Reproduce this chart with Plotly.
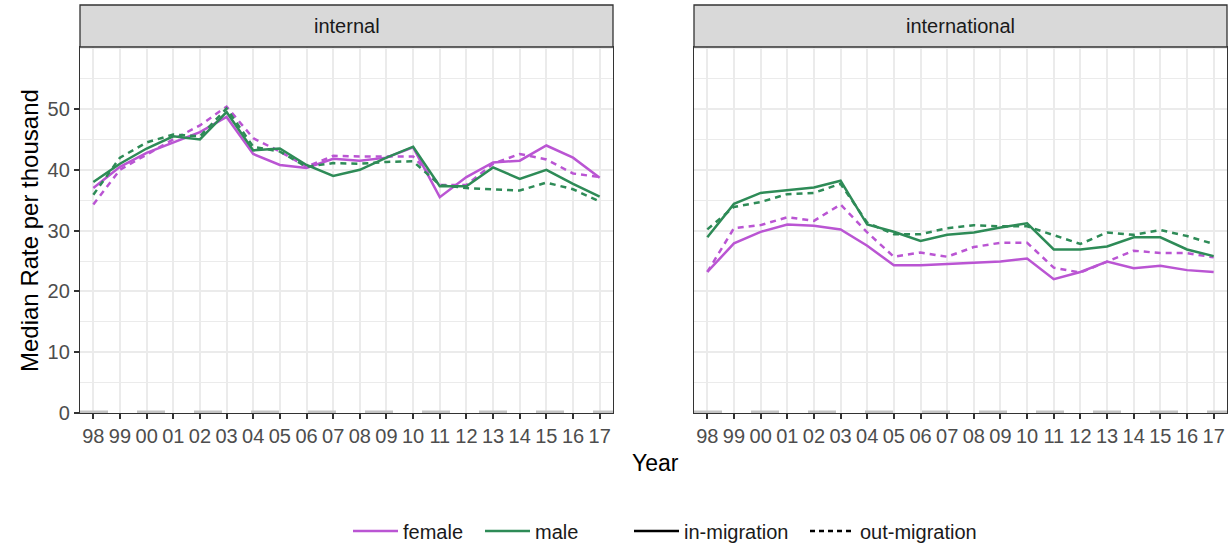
import plotly.graph_objects as go

# Year labels (two-digit) along the x axis
years = ["98", "99", "00", "01", "02", "03", "04", "05", "06", "07",
         "08", "09", "10", "11", "12", "13", "14", "15", "16", "17"]
y_ticks = [0, 10, 20, 30, 40, 50]

# Internal migration: median rate per thousand
internal_female_in = [37.0, 40.5, 42.8, 44.5, 46.2, 48.7, 42.6, 40.8, 40.3, 41.8,
                      41.5, 42.0, 43.7, 35.5, 38.8, 41.2, 41.5, 44.0, 42.0, 38.7]
internal_female_out = [34.3, 40.0, 42.5, 45.0, 47.3, 50.4, 45.2, 43.0, 40.5, 42.3,
                       42.2, 42.2, 42.2, 37.5, 37.5, 41.0, 42.6, 41.7, 39.4, 38.8]
internal_male_in = [38.0, 41.0, 43.5, 45.5, 45.0, 49.5, 43.2, 43.5, 40.8, 39.0,
                    40.0, 42.0, 43.8, 37.3, 37.3, 40.4, 38.5, 40.0, 37.7, 35.6]
internal_male_out = [35.9, 42.0, 44.5, 45.8, 45.5, 50.1, 43.8, 43.0, 40.5, 41.1,
                     41.0, 41.3, 41.4, 37.5, 37.0, 36.8, 36.6, 37.9, 36.8, 34.8]

# International migration: median rate per thousand
intl_female_in = [23.2, 27.9, 29.8, 31.0, 30.8, 30.2, 27.5, 24.3, 24.3, 24.5,
                  24.6, 24.9, 25.4, 22.0, 23.2, 24.9, 23.8, 24.2, 23.5, 23.2]
intl_female_out = [23.2, 30.4, 30.9, 32.2, 31.6, 34.3, 29.7, 25.7, 26.4, 25.7,
                   27.3, 28.0, 28.0, 23.9, 23.1, 24.9, 26.7, 26.3, 26.3, 25.6]
intl_male_in = [28.9, 34.4, 36.2, 36.7, 37.1, 38.2, 31.0, 29.8, 28.3, 29.3,
                29.7, 30.5, 31.2, 26.9, 26.9, 27.4, 28.9, 28.9, 26.9, 25.8]
intl_male_out = [30.2, 33.9, 34.7, 36.0, 36.2, 37.7, 31.3, 29.4, 29.4, 30.4,
                 30.9, 30.7, 30.7, 29.3, 27.8, 29.7, 29.3, 30.1, 29.1, 27.8]

baseline = [0, 0]

PURPLE = "#BA55D3"
GREEN = "#2E8B57"
DASH = "6px,5px"
FONT = "Liberation Sans, Arial, sans-serif"
W, H = 1231, 544

x_idx = list(range(len(years)))

fig = go.Figure()

panels = [
    ("x", "y", [(internal_female_in, PURPLE, "solid"), (internal_female_out, PURPLE, DASH),
                (internal_male_in, GREEN, "solid"), (internal_male_out, GREEN, DASH)]),
    ("x2", "y2", [(intl_female_in, PURPLE, "solid"), (intl_female_out, PURPLE, DASH),
                  (intl_male_in, GREEN, "solid"), (intl_male_out, GREEN, DASH)]),
]

for xa, ya, series in panels:
    # faint dashed reference line at zero
    fig.add_trace(go.Scatter(x=[-0.5, len(years) - 0.5], y=baseline, mode="lines",
                             line=dict(color="#c4c4c4", width=5, dash="28px,29px"),
                             xaxis=xa, yaxis=ya, showlegend=False, hoverinfo="skip"))
    for vals, col, dash in series:
        fig.add_trace(go.Scatter(x=x_idx, y=vals, mode="lines",
                                 line=dict(color=col, width=2.5, dash=dash),
                                 xaxis=xa, yaxis=ya, showlegend=False))

# legend entries, each in its own legend box so they can be placed freely
legend_items = [
    ("female", PURPLE, "solid", "legend", 348),
    ("male", GREEN, "solid", "legend2", 480),
    ("in-migration", "black", "solid", "legend3", 629),
    ("out-migration", "black", "5px,4px", "legend4", 805),
]
legend_layout = {}
for name, col, dash, lg, xpos in legend_items:
    fig.add_trace(go.Scatter(x=[None], y=[None], mode="lines", name=name,
                             line=dict(color=col, width=2.5, dash=dash), legend=lg))
    legend_layout[lg] = dict(orientation="h", x=xpos / W, xanchor="left",
                             y=1 - 531 / H, yanchor="middle", itemwidth=45,
                             font=dict(family=FONT, size=20, color="#1a1a1a"),
                             bgcolor="rgba(0,0,0,0)")

left_dom = [80 / W, 613 / W]
right_dom = [694 / W, 1227 / W]
y_dom = [1 - 413 / H, 1 - 47 / H]

xcommon = dict(range=[-0.5, len(years) - 0.5], tickvals=x_idx, ticktext=years,
               showgrid=True, gridcolor="#ebebeb", gridwidth=2,
               showline=True, mirror=True, linecolor="#333333", linewidth=1.3,
               ticks="outside", ticklen=5, tickwidth=1.5, tickcolor="#333333",
               tickfont=dict(family=FONT, size=20, color="#4d4d4d"),
               zeroline=False, fixedrange=True)
ycommon = dict(range=[0, 60.2], tickvals=y_ticks,
               showgrid=True, gridcolor="#ebebeb", gridwidth=2,
               minor=dict(dtick=5, tick0=0, showgrid=True, gridcolor="#ebebeb", gridwidth=1.3),
               showline=True, mirror=True, linecolor="#333333", linewidth=1.3,
               zeroline=False, fixedrange=True)

fig.update_layout(
    width=W, height=H,
    margin=dict(l=0, r=0, t=0, b=0, autoexpand=False),
    paper_bgcolor="white", plot_bgcolor="white",
    font=dict(family=FONT, color="#1a1a1a"),
    xaxis=dict(domain=left_dom, anchor="y", **xcommon),
    xaxis2=dict(domain=right_dom, anchor="y2", **xcommon),
    yaxis=dict(domain=y_dom, anchor="x", ticks="outside", ticklen=5, tickwidth=1.5,
               tickcolor="#333333",
               tickfont=dict(family=FONT, size=20, color="#4d4d4d"), **ycommon),
    yaxis2=dict(domain=y_dom, anchor="x2", showticklabels=False, ticks="", **ycommon),
    **legend_layout,
)

# facet strips
strip_top = 1 - 5 / H
for dom, label in [(left_dom, "internal"), (right_dom, "international")]:
    fig.add_shape(type="rect", xref="paper", yref="paper",
                  x0=dom[0], x1=dom[1], y0=y_dom[1], y1=strip_top,
                  fillcolor="#d9d9d9", line=dict(color="#333333", width=1.3))
    fig.add_annotation(xref="paper", yref="paper", x=(dom[0] + dom[1]) / 2,
                       y=(y_dom[1] + strip_top) / 2, xanchor="center", yanchor="middle",
                       text=label, showarrow=False,
                       font=dict(family=FONT, size=20, color="#1a1a1a"))

# axis titles
fig.add_annotation(xref="paper", yref="paper", x=655 / W, y=1 - 463 / H,
                   xanchor="center", yanchor="middle", text="Year",
                   showarrow=False, font=dict(family=FONT, size=23, color="black"))
fig.add_annotation(xref="paper", yref="paper", x=30 / W, y=1 - 231 / H,
                   xanchor="center", yanchor="middle",
                   text="Median Rate per thousand", textangle=-90, showarrow=False,
                   font=dict(family=FONT, size=24, color="black"))

fig.write_html("out.html")
